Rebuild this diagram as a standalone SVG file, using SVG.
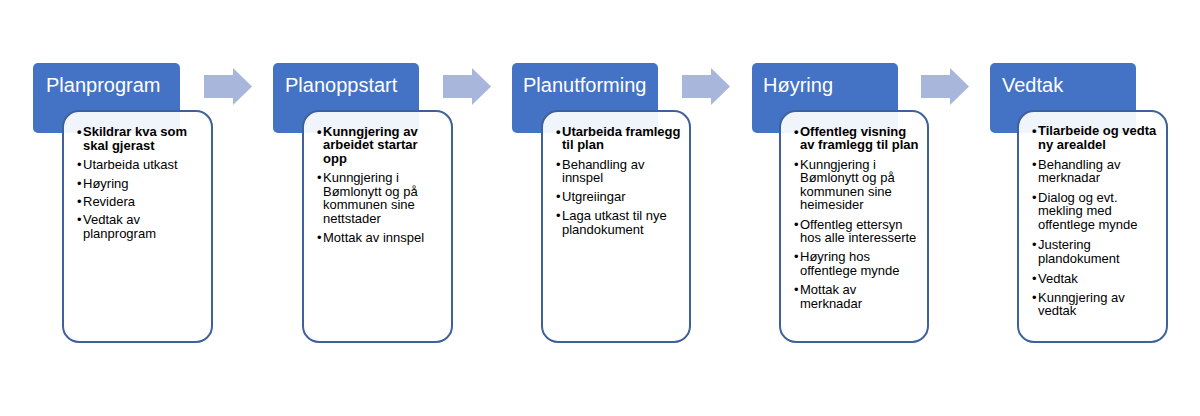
<svg xmlns="http://www.w3.org/2000/svg" width="1200" height="416" viewBox="0 0 1200 416">
<style>
.hdr{fill:#4472C4;}
.card{fill:#FFFFFF;fill-opacity:0.92;stroke:#3F619B;stroke-width:2;}
.title{font-family:"Liberation Sans",Arial,sans-serif;font-size:20px;fill:#FFFFFF;}
.t{font-family:"Liberation Sans",Arial,sans-serif;font-size:13px;fill:#000000;}
.b{font-weight:bold;}
.arrow{fill:#A8B6DC;}
</style>
<rect width="1200" height="416" fill="#FFFFFF"/>
<g id="connectors">
<path class="arrow" d="M204,75 H233 V68 L252,86.5 L233,105 V98 H204 Z"/>
<path class="arrow" d="M443,75 H472 V68 L491,86.5 L472,105 V98 H443 Z"/>
<path class="arrow" d="M682,75 H711 V68 L730,86.5 L711,105 V98 H682 Z"/>
<path class="arrow" d="M921,75 H950 V68 L969,86.5 L950,105 V98 H921 Z"/>
</g>
<g id="node-planprogram">
<rect class="hdr" x="33" y="63" width="147" height="70" rx="5"/>
<text class="title" x="46" y="92">Planprogram</text>
<rect class="card" x="63" y="111" width="149" height="231" rx="16"/>
<text class="t b" x="77" y="136">•</text><text class="t b" x="83" y="136">Skildrar kva som</text>
<text class="t b" x="83" y="149.5">skal gjerast</text>
<text class="t" x="77" y="169">•</text><text class="t" x="83" y="169">Utarbeida utkast</text>
<text class="t" x="77" y="187.5">•</text><text class="t" x="83" y="187.5">Høyring</text>
<text class="t" x="77" y="205.5">•</text><text class="t" x="83" y="205.5">Revidera</text>
<text class="t" x="77" y="224">•</text><text class="t" x="83" y="224">Vedtak av</text>
<text class="t" x="83" y="237.5">planprogram</text>
</g>
<g id="node-planoppstart">
<rect class="hdr" x="273" y="63" width="146" height="70" rx="5"/>
<text class="title" x="285" y="92">Planoppstart</text>
<rect class="card" x="303" y="111" width="149" height="231" rx="16"/>
<text class="t b" x="317" y="135.5">•</text><text class="t b" x="323" y="135.5">Kunngjering av</text>
<text class="t b" x="323" y="149">arbeidet startar</text>
<text class="t b" x="323" y="162.5">opp</text>
<text class="t" x="317" y="182">•</text><text class="t" x="323" y="182">Kunngjering i</text>
<text class="t" x="323" y="195.5">Bømlonytt og på</text>
<text class="t" x="323" y="209">kommunen sine</text>
<text class="t" x="323" y="222.5">nettstader</text>
<text class="t" x="317" y="242">•</text><text class="t" x="323" y="242">Mottak av innspel</text>
</g>
<g id="node-planutforming">
<rect class="hdr" x="512" y="63" width="146" height="70" rx="5"/>
<text class="title" x="523" y="92">Planutforming</text>
<rect class="card" x="542" y="111" width="148" height="231" rx="16"/>
<text class="t b" x="556" y="135.5">•</text><text class="t b" x="562" y="135.5">Utarbeida framlegg</text>
<text class="t b" x="562" y="149">til plan</text>
<text class="t" x="556" y="168.5">•</text><text class="t" x="562" y="168.5">Behandling av</text>
<text class="t" x="562" y="182">innspel</text>
<text class="t" x="556" y="201">•</text><text class="t" x="562" y="201">Utgreiingar</text>
<text class="t" x="556" y="220">•</text><text class="t" x="562" y="220">Laga utkast til nye</text>
<text class="t" x="562" y="233.5">plandokument</text>
</g>
<g id="node-hoyring">
<rect class="hdr" x="752" y="63" width="146" height="70" rx="5"/>
<text class="title" x="763" y="92">Høyring</text>
<rect class="card" x="780" y="111" width="148" height="231" rx="16"/>
<text class="t b" x="794" y="135.5">•</text><text class="t b" x="800" y="135.5">Offentleg visning</text>
<text class="t b" x="800" y="149">av framlegg til plan</text>
<text class="t" x="794" y="168.5">•</text><text class="t" x="800" y="168.5">Kunngjering i</text>
<text class="t" x="800" y="182">Bømlonytt og på</text>
<text class="t" x="800" y="195.5">kommunen sine</text>
<text class="t" x="800" y="209">heimesider</text>
<text class="t" x="794" y="228.5">•</text><text class="t" x="800" y="228.5">Offentleg ettersyn</text>
<text class="t" x="800" y="242">hos alle interesserte</text>
<text class="t" x="794" y="261">•</text><text class="t" x="800" y="261">Høyring hos</text>
<text class="t" x="800" y="274.5">offentlege mynde</text>
<text class="t" x="794" y="294">•</text><text class="t" x="800" y="294">Mottak av</text>
<text class="t" x="800" y="307.5">merknadar</text>
</g>
<g id="node-vedtak">
<rect class="hdr" x="990" y="63" width="146" height="70" rx="5"/>
<text class="title" x="1002" y="92">Vedtak</text>
<rect class="card" x="1018" y="111" width="149" height="231" rx="16"/>
<text class="t b" x="1032" y="135">•</text><text class="t b" x="1038" y="135">Tilarbeide og vedta</text>
<text class="t b" x="1038" y="148.5">ny arealdel</text>
<text class="t" x="1032" y="168.5">•</text><text class="t" x="1038" y="168.5">Behandling av</text>
<text class="t" x="1038" y="182">merknadar</text>
<text class="t" x="1032" y="201.5">•</text><text class="t" x="1038" y="201.5">Dialog og evt.</text>
<text class="t" x="1038" y="215">mekling med</text>
<text class="t" x="1038" y="229">offentlege mynde</text>
<text class="t" x="1032" y="249">•</text><text class="t" x="1038" y="249">Justering</text>
<text class="t" x="1038" y="262.5">plandokument</text>
<text class="t" x="1032" y="282.5">•</text><text class="t" x="1038" y="282.5">Vedtak</text>
<text class="t" x="1032" y="301.5">•</text><text class="t" x="1038" y="301.5">Kunngjering av</text>
<text class="t" x="1038" y="315">vedtak</text>
</g>
</svg>
